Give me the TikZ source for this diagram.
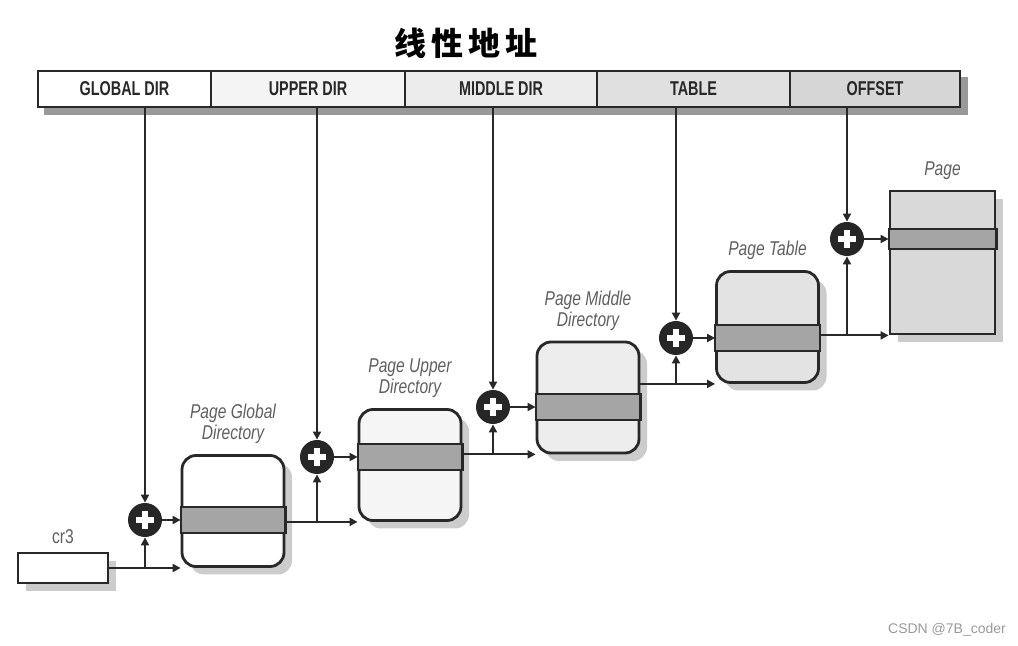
\documentclass[tikz,border=0pt]{standalone}
\usepackage{graphicx}
\usepackage{fontspec}
\setmainfont{Liberation Sans}
\newfontfamily\cjk{Noto Sans CJK SC}
\usetikzlibrary{arrows.meta,positioning,calc,shadows,backgrounds}
\definecolor{inkgray}{RGB}{40,40,40}
\definecolor{labelgray}{RGB}{95,95,95}
\definecolor{bandgray}{RGB}{165,165,165}
\newcommand{\nar}[1]{\scalebox{0.78}[1]{#1}}
\newcommand{\hdr}[1]{\scalebox{0.72}[1]{#1}}

\begin{document}
\begin{tikzpicture}[x=0.5pt,y=-0.5pt,
  >={Triangle[length=4pt,width=4pt]},
  conn/.style={draw=inkgray,line width=0.9pt},
  hcell/.style={draw=inkgray,line width=1pt,minimum height=18pt,inner sep=0pt,outer sep=0pt,
    font=\bfseries\fontsize{10}{10}\selectfont,text=inkgray},
  tbox/.style={draw=inkgray,line width=1.4pt,rounded corners=7pt,minimum width=51pt,minimum height=55.5pt,
    inner sep=0pt,drop shadow={shadow xshift=4pt,shadow yshift=-4pt,fill=black!40}},
  band/.style={draw=inkgray,line width=1.1pt,fill=bandgray},
  adder/.style={circle,fill=black!85,minimum size=17pt,inner sep=0pt,
    path picture={\draw[white,line width=3pt]
      ($(path picture bounding box.center)+(-4.5pt,0)$) -- ($(path picture bounding box.center)+(4.5pt,0)$)
      ($(path picture bounding box.center)+(0,-4.5pt)$) -- ($(path picture bounding box.center)+(0,4.5pt)$);}},
  lbl/.style={font=\itshape\fontsize{10}{10.5}\selectfont,text=labelgray,align=center,inner sep=1pt}]
  \useasboundingbox (0,0) rectangle (1018,646);

  % title and linear address fields
  \node[font=\cjk\bfseries\fontsize{16}{16}\selectfont] (title) at (466,43) {线\hspace{2.5pt}性\hspace{2.5pt}地\hspace{2.5pt}址};
  \foreach \n/\xa/\w/\f/\t in {gdir/38/86.5/0/GLOBAL DIR,udir/211/97/9/UPPER DIR,mdir/405/96/15/MIDDLE DIR,tdir/597/96.5/24/TABLE,odir/790/85/32/OFFSET}
    \node[hcell,fill=gray!\f,minimum width=\w pt,anchor=west] (\n) at (\xa,89) {\hdr{\t}};
  \begin{scope}[on background layer]
    \fill[black!40] ($(gdir.south west)+(3pt,-4pt)$) rectangle ($(odir.north east)+(4pt,-3pt)$);
  \end{scope}

  % tables
  \node[draw=inkgray,line width=1.2pt,fill=white,minimum width=45pt,minimum height=15pt,
    drop shadow={shadow xshift=4pt,shadow yshift=-4pt,fill=black!40}] (cr3) at (63,568) {};
  \node[tbox,fill=white] (pgd) at (233,511) {};
  \node[tbox,fill=gray!8] (pud) at (410,465) {};
  \node[tbox,fill=gray!14] (pmd) at (588,397.5) {};
  \node[tbox,fill=gray!22] (pt) at (767.5,327) {};
  \node[tbox,sharp corners,fill=gray!30,minimum width=52.5pt,minimum height=71.5pt] (page) at (942.5,262.5) {};

  \node[font=\fontsize{10}{10}\selectfont,text=labelgray,inner sep=1pt,above=3pt of cr3] (cr3lbl) {\nar{cr3}};
  \node[lbl,above=4pt of pgd] (pgdlbl) {\nar{Page Global}\\\nar{Directory}};
  \node[lbl,above=4pt of pud] (pudlbl) {\nar{Page Upper}\\\nar{Directory}};
  \node[lbl,above=4pt of pmd] (pmdlbl) {\nar{Page Middle}\\\nar{Directory}};
  \node[lbl,above=4pt of pt] (ptlbl) {\nar{Page Table}};
  \node[lbl,above=4pt of page] (pagelbl) {\nar{Page}};

  % adders
  \foreach \i/\x/\y in {1/145/520,2/317/457,3/493/407,4/676/338,5/847/239}
    \node[adder] (p\i) at (\x,\y) {};

  % selected entries
  \foreach \b/\p/\h in {pgd/p1/13,pud/p2/13,pmd/p3/13,pt/p4/13,page/p5/10}
    \draw[band] ($(\b.west |- \p)+(0,-\h)$) rectangle ($(\b.east |- \p)+(0,\h)$);

  % connectors
  \draw[conn,->] (cr3.east) -- (cr3.east -| pgd.west);
  \draw[conn,->] (p1 |- cr3.east) -- (p1.south);
  \draw[conn,->] (p1 |- gdir.south) -- (p1.north);
  \draw[conn,->] (p1.east) -- (p1 -| pgd.west);
  \foreach \a/\b/\p/\h in {pgd/pud/p2/udir,pud/pmd/p3/mdir,pmd/pt/p4/tdir,pt/page/p5/odir}{
    \draw[conn,->] (\a.east |- \b.south) -- (\b.south west);
    \draw[conn,->] (\p |- \b.south) -- (\p.south);
    \draw[conn,->] (\p |- \h.south) -- (\p.north);
    \draw[conn,->] (\p.east) -- (\p -| \b.west);
  }

  \node[font=\fontsize{7}{7}\selectfont,text=gray!80] (mark) at (947,630) {CSDN @7B\_coder};
\end{tikzpicture}
\end{document}
